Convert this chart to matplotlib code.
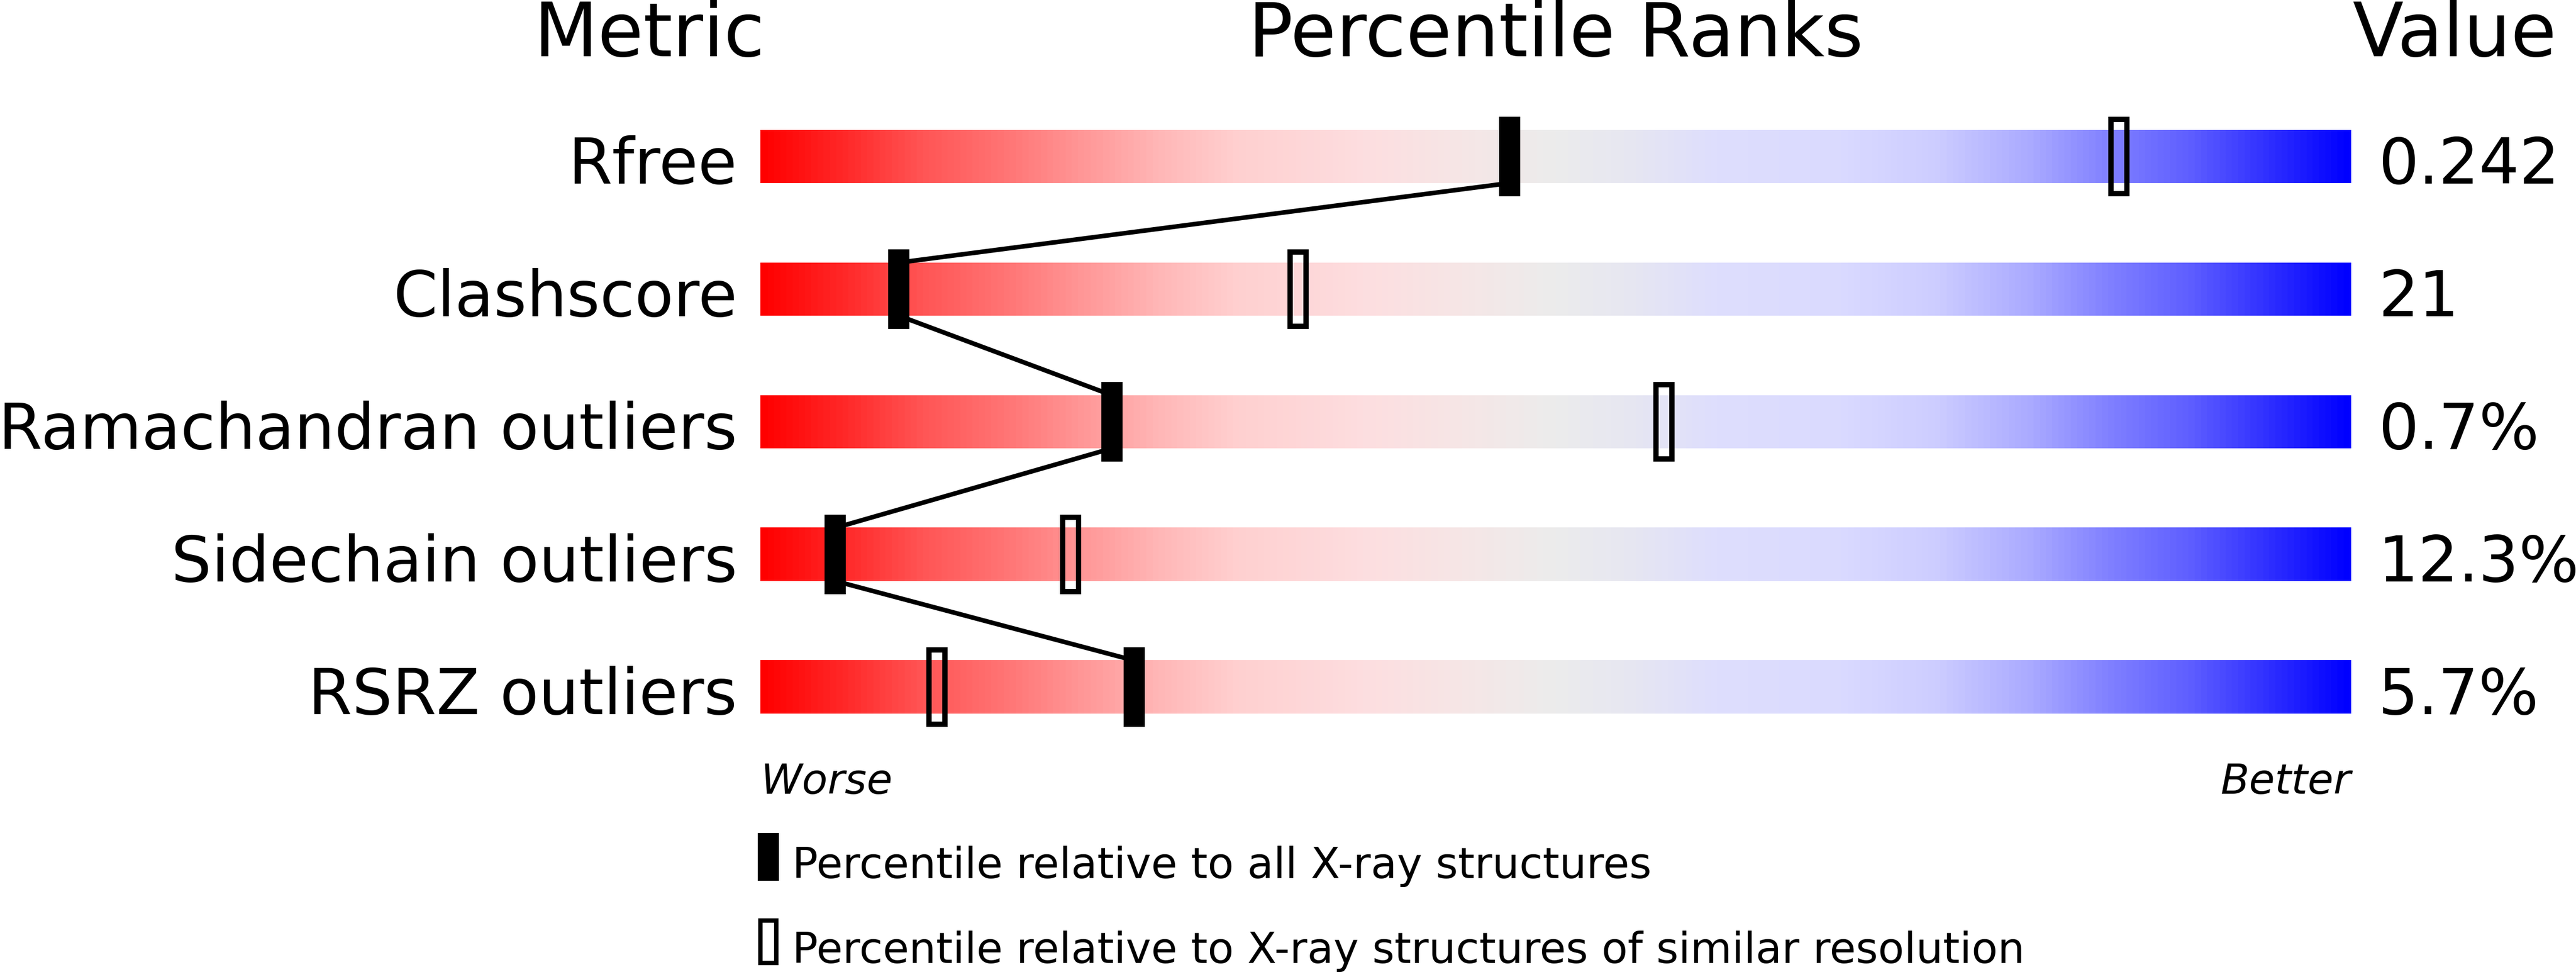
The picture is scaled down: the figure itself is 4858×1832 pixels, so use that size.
import numpy as np
import matplotlib
matplotlib.use("Agg")
import matplotlib.pyplot as plt
from matplotlib.colors import LinearSegmentedColormap
from matplotlib.patches import Rectangle

# data
metrics = ["Rfree", "Clashscore", "Ramachandran outliers", "Sidechain outliers", "RSRZ outliers"]
values = ["0.242", "21", "0.7%", "12.3%", "5.7%"]
pct_all = [47.1, 8.7, 22.1, 4.7, 23.5]          # filled marker
pct_similar = [85.4, 33.8, 56.8, 19.5, 11.1]    # open marker

legend_labels = ["Percentile relative to all X-ray structures",
                 "Percentile relative to X-ray structures of similar resolution"]

# slider colour ramp (position, rgb)
ramp = [
    (0.00, (255, 0, 0)), (0.05, (255, 40, 40)), (0.10, (255, 85, 85)),
    (0.15, (255, 115, 115)), (0.20, (255, 150, 150)), (0.25, (255, 183, 183)),
    (0.30, (255, 208, 208)), (0.38, (253, 222, 224)), (0.44, (246, 230, 230)),
    (0.50, (236, 236, 236)), (0.55, (230, 230, 242)), (0.60, (222, 222, 253)),
    (0.68, (218, 218, 255)), (0.74, (205, 205, 255)), (0.80, (170, 170, 255)),
    (0.85, (128, 128, 255)), (0.90, (95, 95, 255)), (1.00, (0, 0, 255)),
]
cmap = LinearSegmentedColormap.from_list(
    "slider", [(p, tuple(c / 255 for c in rgb)) for p, rgb in ramp])

W, H, DPI = 4858, 1833, 100
fig = plt.figure(figsize=(W / DPI, H / DPI), dpi=DPI)
ax = fig.add_axes([0, 0, 1, 1])
ax.set_xlim(-1434 / 30, (W - 1434) / 30)
ax.set_ylim((H - 296) / 250, -296 / 250)
ax.axis("off")

half_bar = 0.2
mk_w, mk_h = 40 / 30, 0.6
ramp_img = np.linspace(0, 1, 600).reshape(1, -1)

for i, (name, val) in enumerate(zip(metrics, values)):
    ax.imshow(ramp_img, cmap=cmap, aspect="auto", interpolation="bilinear",
              extent=(0, 100, i + half_bar, i - half_bar), zorder=1)
    ax.text(-1.45, i + half_bar, name, ha="right", va="baseline", fontsize=86)
    ax.text(101.7, i + half_bar, val, ha="left", va="baseline", fontsize=86)

# zigzag line joining the filled markers
for i in range(len(pct_all) - 1):
    ax.plot([pct_all[i], pct_all[i + 1]], [i + half_bar, i + 1 - half_bar],
            color="black", linewidth=6.2, solid_capstyle="butt", zorder=2)

for i, (pa, ps) in enumerate(zip(pct_all, pct_similar)):
    ax.add_patch(Rectangle((pa - mk_w / 2, i - mk_h / 2), mk_w, mk_h,
                           facecolor="black", edgecolor="none", zorder=3))
    ax.add_patch(Rectangle((ps - 1.0 / 2, i - 0.56 / 2), 1.0, 0.56,
                           facecolor="none", edgecolor="black", linewidth=7.2, zorder=3))

# headers
hdr_y = (106 - 296) / 250
ax.text(-7.0, hdr_y, "Metric", ha="center", va="baseline", fontsize=101)
ax.text(50, hdr_y, "Percentile Ranks", ha="center", va="baseline", fontsize=101)
ax.text(106.5, hdr_y, "Value", ha="center", va="baseline", fontsize=101)

ax.text(0, 4.8, "Worse", ha="left", va="baseline", fontsize=57, style="italic")
ax.text(100, 4.8, "Better", ha="right", va="baseline", fontsize=57, style="italic")

# legend
ax.add_patch(Rectangle((0.5 - mk_w / 2, 5.28 - 0.18), mk_w, 0.36,
                       facecolor="black", edgecolor="none"))
ax.add_patch(Rectangle((0.5 - 1.0 / 2, 5.92 - 0.16), 1.0, 0.32,
                       facecolor="none", edgecolor="black", linewidth=6.0))
ax.text(2.0, 5.436, legend_labels[0], ha="left", va="baseline", fontsize=58)
ax.text(2.0, 6.076, legend_labels[1], ha="left", va="baseline", fontsize=58)

fig.savefig("out.png", dpi=DPI, facecolor="white")
